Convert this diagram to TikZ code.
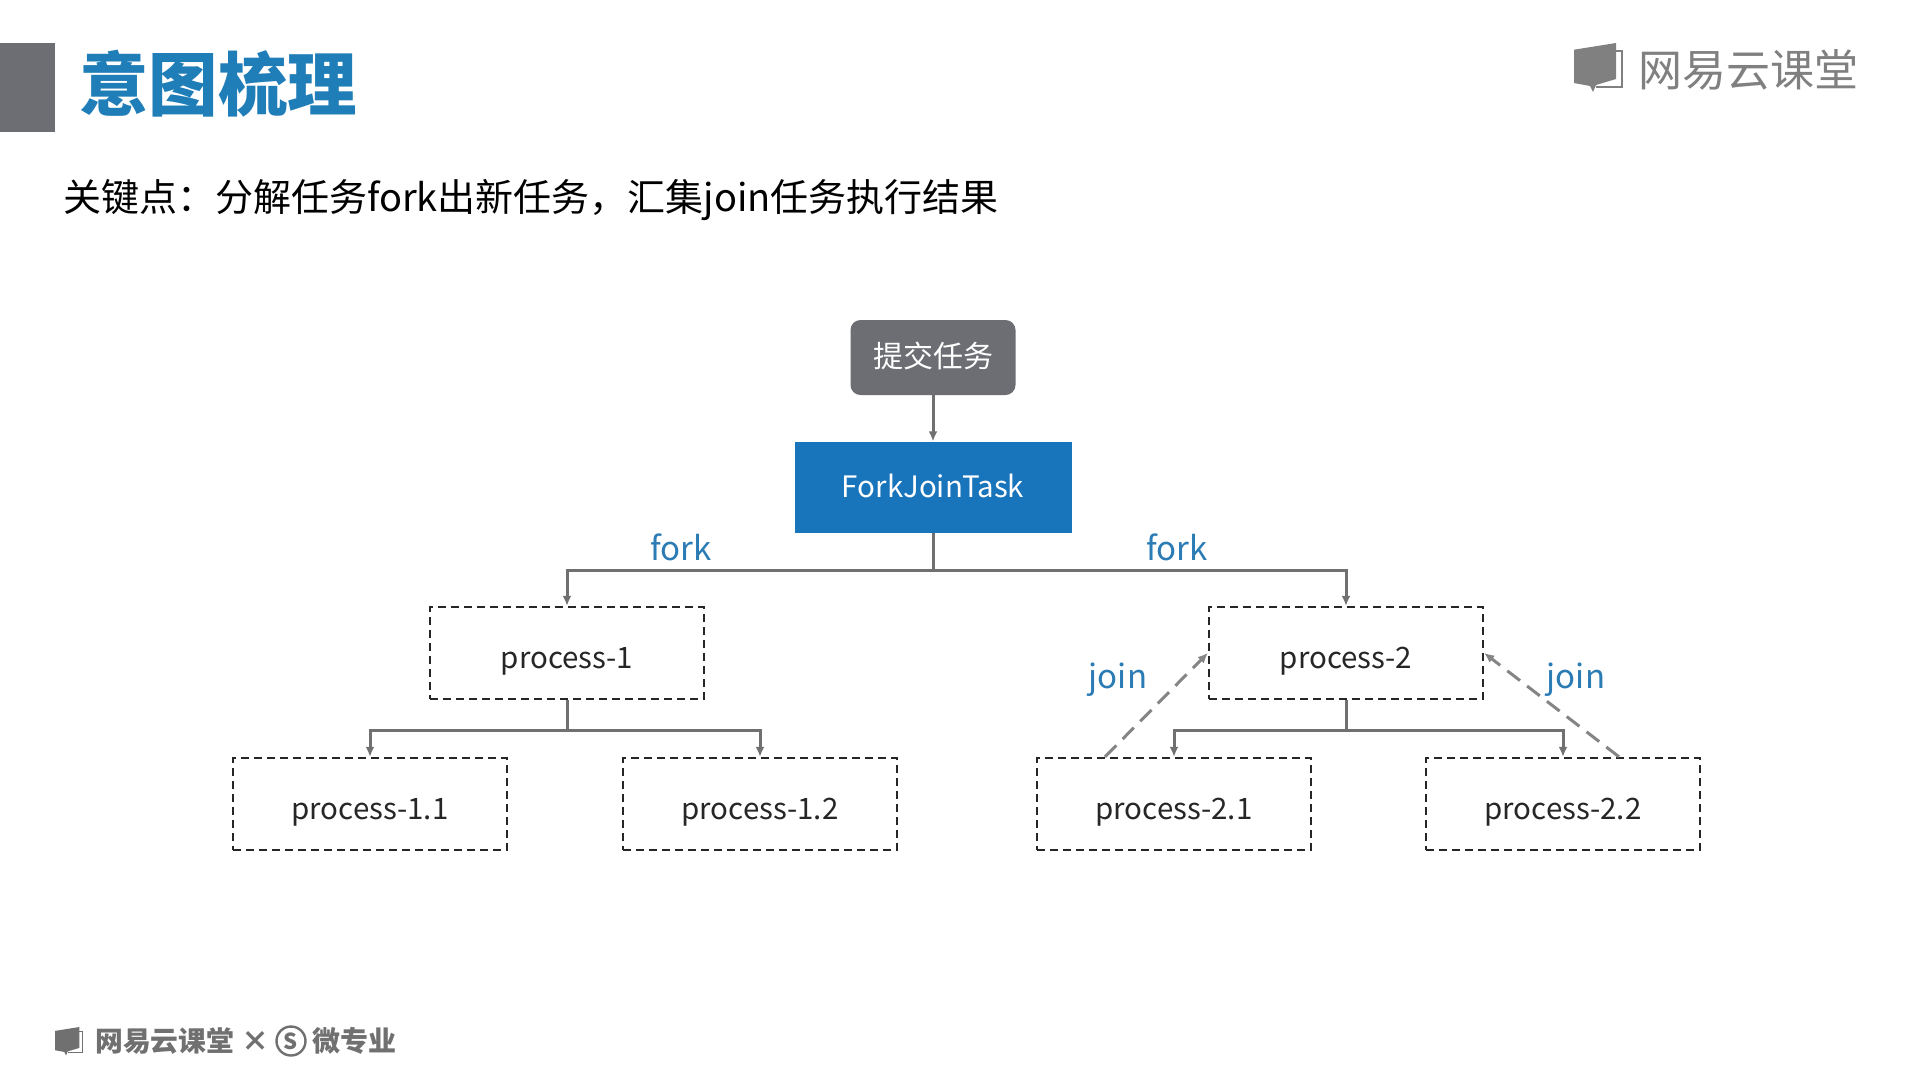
\documentclass[tikz,border=0pt]{standalone}
\usepackage{fontspec}
\setmainfont{Noto Sans CJK SC}
\usetikzlibrary{arrows.meta}
\definecolor{slidegray}{HTML}{6D6E73}
\definecolor{slideblue}{HTML}{1874BB}
\definecolor{titleblue}{HTML}{1F7DB8}
\definecolor{labelblue}{HTML}{2B7BB5}
\definecolor{linegray}{HTML}{707070}
\newcommand{\fsz}[1]{\fontsize{#1}{#1}\selectfont}
\newcommand{\bookicon}{%
	\fill(0,6.7)--(42,0)--(42,36)--(22,42)--(19,49)--(16,43)--(0,40)--cycle;
	\draw[line width=1.2pt](42,8)--(48,8)--(48,44)--(22,44);
}
\tikzset{
	procbox/.style={draw=black!85,line width=2.4pt,dash pattern=on 8pt off 5pt,minimum width=274pt,minimum height=92pt,inner sep=0pt,text height=30pt,text depth=0pt,text=black!85,font=\fsz{29.5}},
	forkline/.style={draw=linegray,line width=3pt,-{Latex[length=10pt,width=9pt]}},
	joinline/.style={draw=linegray!85,line width=3pt,dash pattern=on 16pt off 9pt,-{Latex[length=10pt,width=9pt]}},
	tag/.style={text=labelblue,font=\fsz{33},inner sep=0pt},
}
\begin{document}
\begin{tikzpicture}[x=1pt,y=-1pt]
	\useasboundingbox(0,0)rectangle(1908,1072);
	\fill[white](0,0)rectangle(1908,1072);
	% header
	\fill[slidegray](0,43)rectangle(55,132);
	\node[anchor=west,inner sep=0pt,text=titleblue](title)at(79,84){\fsz{69.5}\bfseries 意图梳理};
	\node[anchor=west,inner sep=0pt](subtitle)at(63,200.5){\fsz{38}关键点：分解任务fork出新任务，汇集join任务执行结果};
	% logos
	\begin{scope}[shift={(1574,43)},fill=gray,draw=gray]
		\bookicon
	\end{scope}
	\node[anchor=west,inner sep=0pt,text=gray](logotop)at(1638,70){\fsz{44}网易云课堂};
	\begin{scope}[shift={(55,1027)},scale=0.58,fill=linegray,draw=linegray]
		\bookicon
	\end{scope}
	\node[anchor=west,inner sep=0pt,text=linegray](logobottom)at(95,1041){\fsz{27.8}\bfseries 网易云课堂};
	\node[inner sep=0pt,text=linegray](times)at(255,1041){\fsz{28}\bfseries ×};
	\node[circle,draw=linegray,line width=2.4pt,minimum size=29pt,inner sep=0pt,text=linegray](micro)at(291,1041){\fsz{22}\bfseries S};
	\node[anchor=west,inner sep=0pt,text=linegray](microtext)at(312,1041){\fsz{28}\bfseries 微专业};
	% tree
	\node[fill=slidegray,rounded corners=10pt,minimum width=165pt,minimum height=75pt,inner sep=0pt,text height=26pt,text depth=6.8pt,text=white,font=\fsz{30}](submit)at(933,357.5){提交任务};
	\node[fill=slideblue,minimum width=277pt,minimum height=91pt,inner sep=0pt,text height=20pt,text depth=0pt,text=white,font=\fsz{29.5}](task)at(933,487){ForkJoinTask};
	\node[procbox](proc1)at(567,653){process-1};
	\node[procbox](proc2)at(1346,653){process-2};
	\node[procbox](proc11)at(370,804){process-1.1};
	\node[procbox](proc12)at(760,804){process-1.2};
	\node[procbox](proc21)at(1174,804){process-2.1};
	\node[procbox](proc22)at(1563,804){process-2.2};
	\draw[forkline](submit)--(task);
	\draw[forkline](task.south)--++(0,38)-|(proc1.north);
	\draw[forkline](task.south)--++(0,38)-|(proc2.north);
	\draw[forkline](proc1.south)--++(0,30)-|(proc11.north);
	\draw[forkline](proc1.south)--++(0,30)-|(proc12.north);
	\draw[forkline](proc2.south)--++(0,30)-|(proc21.north);
	\draw[forkline](proc2.south)--++(0,30)-|(proc22.north);
	\draw[joinline]([xshift=-69pt]proc21.north)--(proc2.west);
	\draw[joinline]([xshift=56pt]proc22.north)--(proc2.east);
	\node[tag](forkleft)at(681,547){fork};
	\node[tag](forkright)at(1177,547){fork};
	\node[tag](joinleft)at(1118,680){join};
	\node[tag](joinright)at(1576,680){join};
\end{tikzpicture}
\end{document}
